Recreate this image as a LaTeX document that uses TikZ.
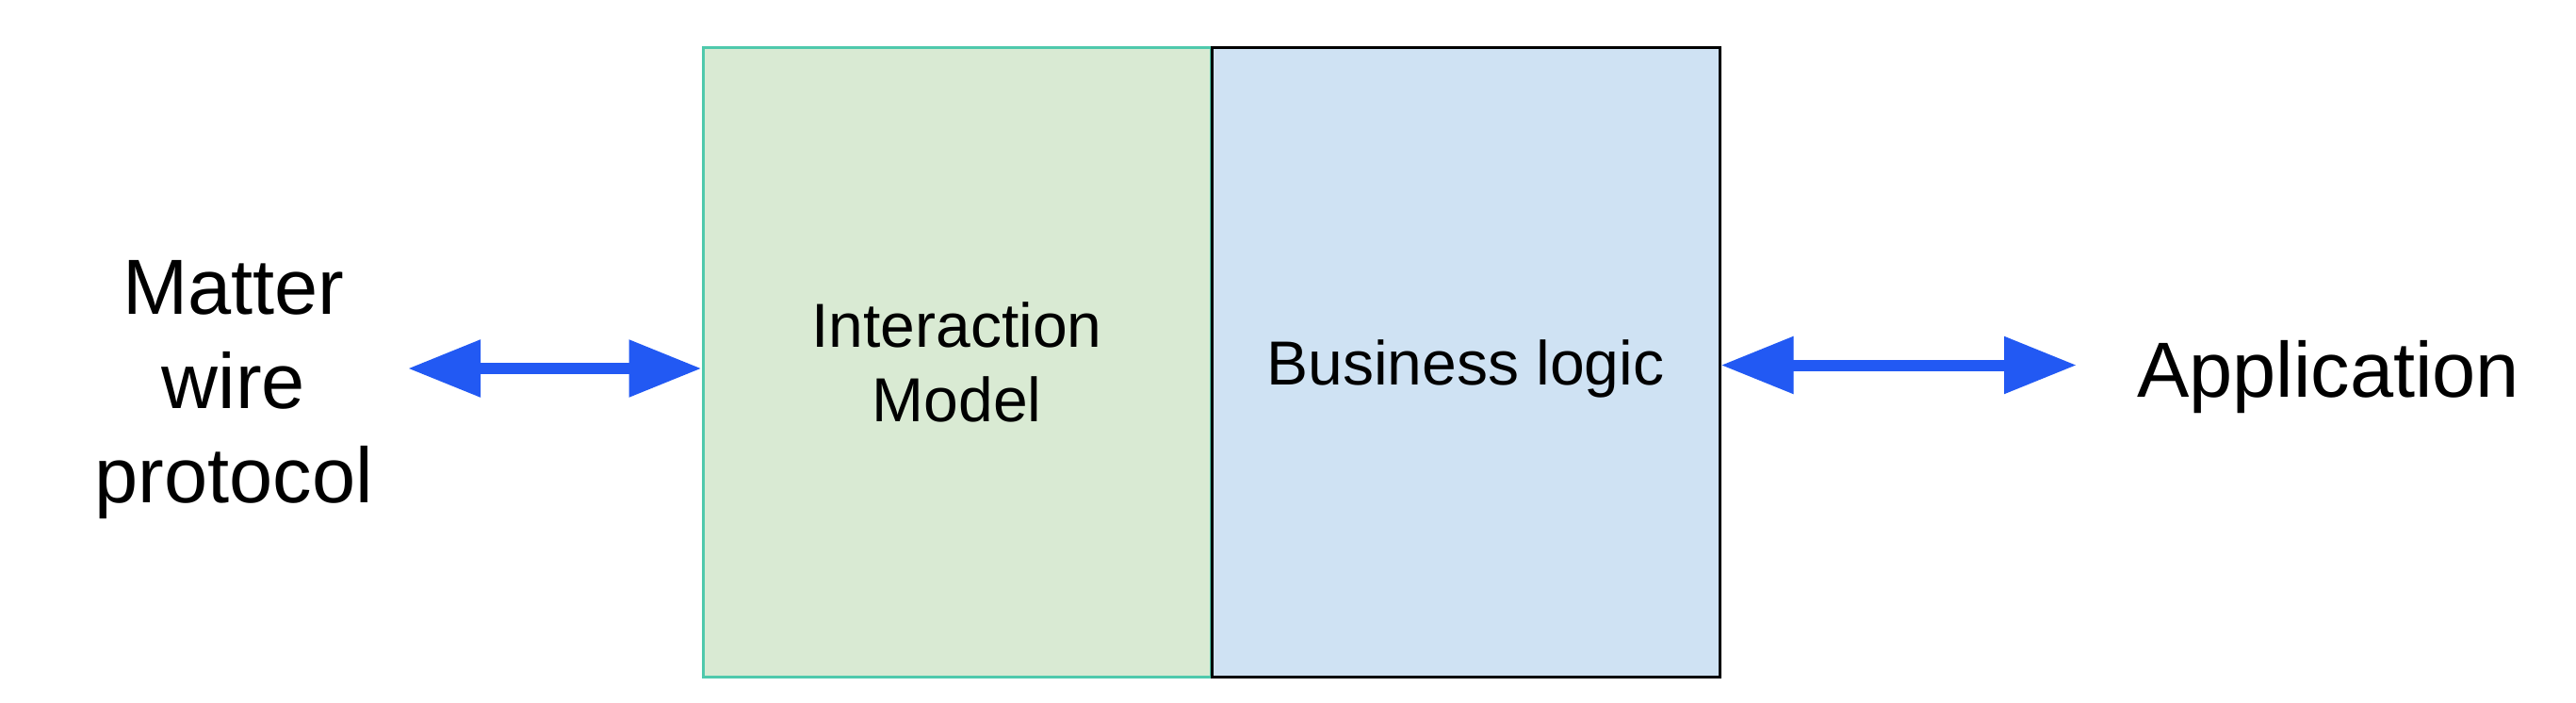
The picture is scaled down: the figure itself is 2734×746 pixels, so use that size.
\documentclass[tikz,border=0pt]{standalone}
\usepackage{fontspec}
\setmainfont{Liberation Sans}
\usetikzlibrary{arrows.meta}
\definecolor{imfill}{HTML}{D9EAD3}
\definecolor{imline}{HTML}{4FC9AC}
\definecolor{blfill}{HTML}{CFE2F3}
\definecolor{linkblue}{HTML}{2259F3}
\tikzset{
	block/.style={draw, rectangle, line width=3pt, minimum width=539pt, minimum height=667pt, align=center, font=\fontsize{66pt}{79pt}\selectfont},
	side/.style={align=center, font=\fontsize{83pt}{100pt}\selectfont},
	link/.style={draw=linkblue, line width=12pt, {Triangle[length=77pt,width=58pt]}-{Triangle[length=77pt,width=58pt]}}
}
\begin{document}
\begin{tikzpicture}[x=1pt,y=-1pt]
		\useasboundingbox (0,0) rectangle (2734,746);
		\draw
		node[block, draw=imline, fill=imfill] at (1015.5,384.5) (im) {Interaction\\Model}
		node[block, draw=black, fill=blfill, text depth=0pt] at (1555.5,384.5) (bl) {Business logic}
		node[side] at (248,414) (wire) {Matter\\wire\\protocol}
		node[side] at (2471,400) (app) {Application};
		\coordinate (wl) at (433,391);
		\coordinate (ar) at (2204,387.5);
		\draw[link] (wl) -- ([yshift=-6.5pt]im.west);
		\draw[link] ([yshift=-3pt]bl.east) -- (ar);
	\end{tikzpicture}
\end{document}
